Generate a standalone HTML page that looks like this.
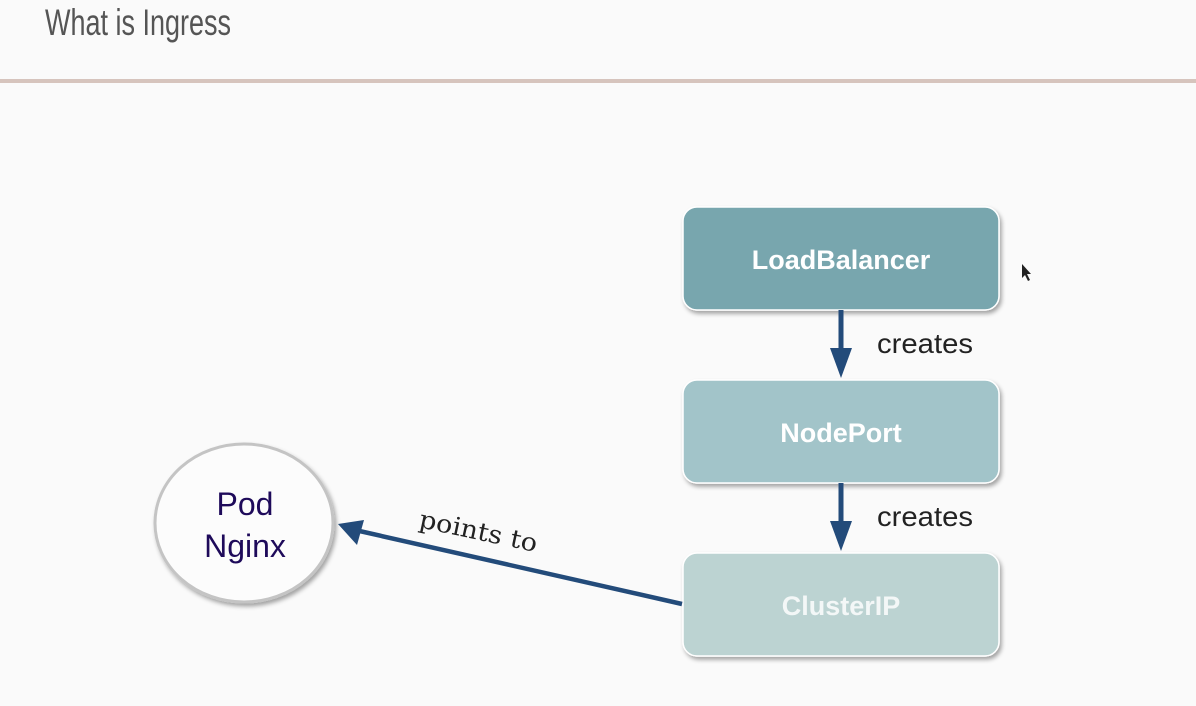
<!DOCTYPE html>
<html><head><meta charset="utf-8"><style>
html,body{margin:0;padding:0;background:#fafafa;}
svg{display:block}
</style></head><body>
<svg width="1196" height="706" viewBox="0 0 1196 706" xmlns="http://www.w3.org/2000/svg">
<defs>
<filter id="sh" x="-10%" y="-10%" width="130%" height="140%"><feDropShadow dx="2" dy="3" stdDeviation="2" flood-color="#000" flood-opacity="0.35"/></filter>
</defs>
<rect width="1196" height="706" fill="#fafafa"/>
<text x="45" y="35" font-family="'Liberation Sans Narrow','Liberation Sans',sans-serif" font-size="37" fill="#555" textLength="186" lengthAdjust="spacingAndGlyphs">What is Ingress</text>
<rect x="0" y="79" width="1196" height="4" fill="#d6c4bd"/>

<rect x="683" y="207" width="316" height="103" rx="14" fill="#78a6ae" stroke="#fff" stroke-width="1.5" filter="url(#sh)"/>
<rect x="683" y="380" width="316" height="103" rx="14" fill="#a2c4c9" stroke="#fff" stroke-width="1.5" filter="url(#sh)"/>
<rect x="683" y="553" width="316" height="103" rx="14" fill="#bcd3d2" stroke="#fff" stroke-width="1.5" filter="url(#sh)"/>
<g font-family="'Liberation Sans',sans-serif" font-weight="bold" font-size="27" fill="#fff" text-anchor="middle">
<text x="841" y="269">LoadBalancer</text>
<text x="841" y="442">NodePort</text>
<text x="841" y="615" fill="#f3f7f7">ClusterIP</text>
</g>

<g fill="#234b7a" stroke="#234b7a">
<line x1="841" y1="310" x2="841" y2="350" stroke-width="5"/>
<polygon points="830,348 852,348 841,378" stroke="none"/>
<line x1="841" y1="483" x2="841" y2="523" stroke-width="5"/>
<polygon points="830,521 852,521 841,551" stroke="none"/>
<line x1="682" y1="604" x2="355" y2="530" stroke-width="4.5"/>
<polygon points="338,524 364,520 357,545" stroke="none"/>
</g>
<g fill="#222">
<text x="877" y="353" font-family="'Liberation Sans',sans-serif" font-size="28" textLength="96" lengthAdjust="spacingAndGlyphs">creates</text>
<text x="877" y="526" font-family="'Liberation Sans',sans-serif" font-size="28" textLength="96" lengthAdjust="spacingAndGlyphs">creates</text>
<text x="418" y="527" font-size="25" font-family="'DejaVu Serif','Liberation Serif',serif" transform="rotate(12 418 527)" textLength="120" lengthAdjust="spacingAndGlyphs">points to</text>
</g>

<ellipse cx="244" cy="523" rx="89" ry="79" fill="#fcfcfc" stroke="#c4c4c4" stroke-width="3" filter="url(#sh)"/>
<g font-family="'Liberation Sans',sans-serif" font-size="32" fill="#1e0a5a" text-anchor="middle">
<text x="245" y="515">Pod</text>
<text x="245" y="557">Nginx</text>
</g>
<polygon points="1022,264 1022,278 1025,275 1028,281 1030,280 1027,274 1031,274" fill="#222"/>
</svg>
</body></html>
